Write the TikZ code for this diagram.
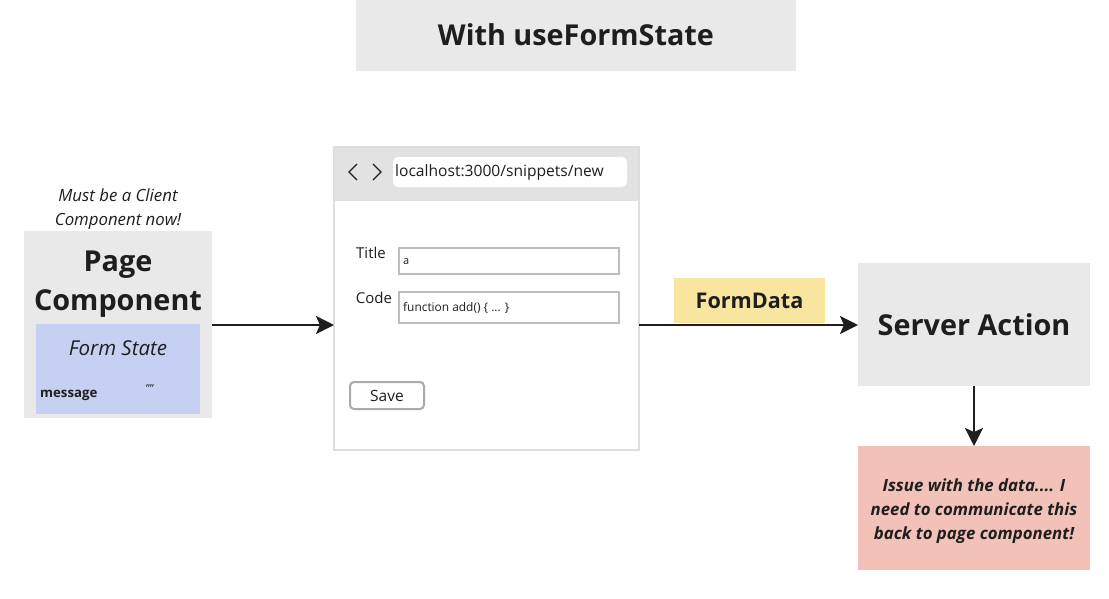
\documentclass[tikz,border=0pt]{standalone}
\usepackage{fontspec}
\setmainfont{Open Sans}
\usepackage{tikz}
\usetikzlibrary{arrows.meta,positioning,calc}
\definecolor{cBox} {HTML}{E9E9E9}
\definecolor{cForm}{HTML}{C6D0F3}
\definecolor{cData}{HTML}{F8E6A0}
\definecolor{cIssue}{HTML}{F2C2B9}
\definecolor{cBar} {HTML}{E2E2E2}
\definecolor{cEdge}{HTML}{DDDDDD}
\definecolor{cFld} {HTML}{BDBDBD}
\definecolor{cInk} {HTML}{1E1E1E}
\newcommand{\fsz}[2]{\fontsize{#1}{#2}\selectfont}
\tikzset{
  pane/.style  ={inner sep=0pt,outer sep=0pt,align=center,text=cInk},
  graybox/.style={pane,fill=cBox},
  heading/.style={text=cInk,font=\fsz{28.8}{39}\bfseries,align=center,inner sep=0pt},
  note/.style  ={text=cInk,font=\fsz{16.8}{24}\itshape,align=center,inner sep=0pt},
  field/.style ={pane,draw=cFld,line width=2.4pt,fill=white,anchor=north west},
  small/.style ={text=cInk,inner sep=0pt,font=\fsz{11}{13}},
  flow/.style  ={-{Stealth[length=18pt,width=18pt,inset=4pt]},draw=cInk,line width=2.6pt},
}
\begin{document}
\begin{tikzpicture}[x=1pt,y=-1pt]
\useasboundingbox[fill=white] (0,0) rectangle (1109,598);

% title banner
\node[graybox,minimum width=440pt,minimum height=72pt] (banner) at (576,35)
  {\fsz{28.8}{34}\bfseries With useFormState};

% page component, now a client component
\node[note] (hint) at (118,209.5) {Must be a Client\\Component now!};
\node[graybox,minimum width=188pt,minimum height=187pt] (page) at (118,324.5) {};
\node[heading] (pagett) at (118,284) {Page\\Component};
\node[pane,fill=cForm,minimum width=164pt,minimum height=90pt] (state) at (118,369) {};
\node[text=cInk,inner sep=0pt,font=\fsz{20.5}{24}\itshape] (statett) at (118,348) {Form State};
\node[text=cInk,inner sep=0pt,font=\fsz{13.2}{16}\bfseries,anchor=west] (msg) at (40,395.5) {message};
\node[small,font=\fsz{11}{14}] (msgval) at (150,389) {\char34\char34};

% the browser with the form
\node[pane,draw=cEdge,line width=2pt,fill=white,minimum width=305pt,minimum height=303pt]
  (win) at (486.5,298.5) {};
\node[pane,fill=cBar,minimum width=303pt,minimum height=53pt,anchor=north]
  (bar) at ($(win.north)+(0,1)$) {};
\coordinate (back) at (353,172);
\coordinate (fwd)  at (377,172);
\draw[cInk,line width=1.3pt] ($(back)+(4,-8)$) -- ($(back)+(-4,0)$) -- ($(back)+(4,8)$);
\draw[cInk,line width=1.3pt] ($(fwd)+(-4,-8)$) -- ($(fwd)+(4,0)$) -- ($(fwd)+(-4,8)$);
\node[pane,fill=white,rounded corners=5pt,minimum width=234pt,minimum height=30pt,anchor=north west]
  (url) at (393,157) {};
\node[text=cInk,inner sep=0pt,font=\fsz{15.6}{18},anchor=west] (urltxt) at (395,172.5) {localhost:3000/snippets/new};

\node[text=cInk,inner sep=0pt,font=\fsz{15}{18}] (titlelbl) at (371,253) {Title};
\node[field,minimum width=220pt,minimum height=26pt] (titlefld) at (399,248) {};
\node[small,anchor=west] (titleval) at (403,262) {a};
\node[text=cInk,inner sep=0pt,font=\fsz{15}{18}] (codelbl) at (374,298) {Code};
\node[field,minimum width=220pt,minimum height=31pt] (codefld) at (399,292) {};
\node[small,font=\fsz{11.9}{14},anchor=west] (codeval) at (403,307.5) {function add() \{ ... \}};

\node[field,rounded corners=4pt,draw=cFld!90!black,line width=2pt,minimum width=74pt,minimum height=27pt,
  font=\fsz{15.5}{18}] (save) at (350,382) {Save};

% server side
\node[graybox,minimum width=232pt,minimum height=123pt,font=\fsz{28.8}{34}\bfseries] (action) at (974,324.5)
  {Server Action};
\node[pane,fill=cData,minimum width=151pt,minimum height=45pt,font=\fsz{21.6}{26}\bfseries] (formdata) at (749.5,300.5)
  {FormData};
\node[pane,fill=cIssue,minimum width=232pt,minimum height=124pt,font=\fsz{16.8}{24}\bfseries\itshape]
  (issue) at (974,508) {};
\node[text=cInk,inner sep=0pt,align=center,font=\fsz{16.8}{24}\bfseries\itshape]
  (issuett) at (974,511)
  {Issue with the data.... I\\need to communicate this\\back to page component!};

% flow
\draw[flow] (page.east |- 0,325) -- (win.west |- 0,325);
\draw[flow] (win.east |- 0,325) -- (action.west |- 0,325);
\draw[flow] (action.south) -- (issue.north);
\end{tikzpicture}
\end{document}
